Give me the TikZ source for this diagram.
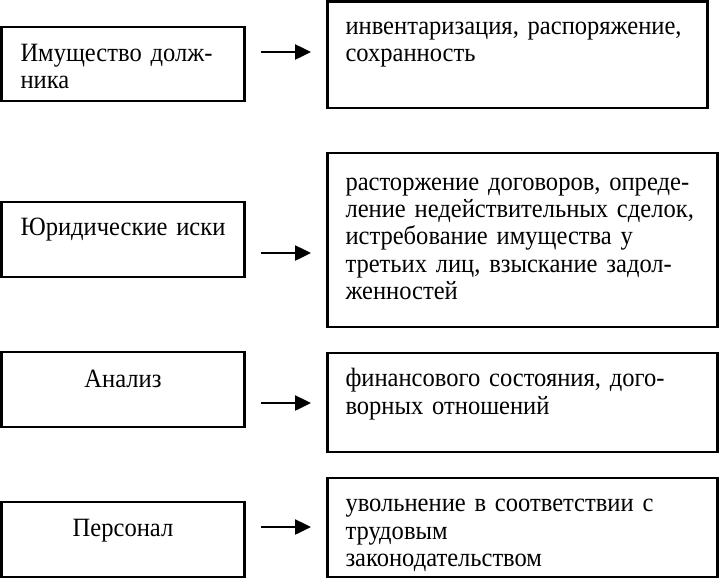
\documentclass[tikz,border=0pt]{standalone}
\usepackage{fontspec}
\setmainfont{Liberation Serif}[FakeStretch=0.93]
\usetikzlibrary{arrows.meta}

\begin{document}
\begin{tikzpicture}[x=1pt, y=-1pt,
	box/.style={draw, line width=2.7pt, anchor=north west, outer sep=0pt, inner ysep=0pt,
		font=\fontsize{26.4}{27.4}\selectfont},
	lbox/.style={box, inner xsep=19pt, text width=205pt, align=center},
	rbox/.style={box, inner xsep=18pt, text width=354pt, align=left},
	arr/.style={line width=2.5pt, -{Triangle[length=16pt, width=15pt]}, shorten <=16.5pt, shorten >=16.5pt}]
	\useasboundingbox (0,0) rectangle (720,579);
	\node[lbox, align=left, text height=34pt, text depth=40pt] (l1) at (1.5,27) {Имущество долж-\\ника};
	\node[lbox, text height=33pt, text depth=42pt] (l2) at (1.5,202) {Юридические иски};
	\node[lbox, text height=35pt, text depth=40pt] (l3) at (1.5,352) {Анализ};
	\node[lbox, text height=34pt, text depth=41pt] (l4) at (1.5,502) {Персонал};
	\node[rbox, text width=344pt, text height=33pt, text depth=73.5pt] (r1) at (327.5,1.5) {инвентаризация, распоряжение,\\сохранность};
	\node[rbox, text height=37pt, text depth=137pt] (r2) at (327.5,153) {расторжение договоров, опреде-\\ление недействительных сделок,\\истребование имущества у\\третьих лиц, взыскание задол-\\женностей};
	\node[rbox, text height=33.7pt, text depth=65.3pt] (r3) at (327.5,353) {финансового состояния, дого-\\ворных отношений};
	\node[rbox, text height=33.7pt, text depth=65.3pt] (r4) at (327.5,478) {увольнение в соответствии с\\трудовым\\законодательством};
	\draw[arr] ([yshift=12pt]l1.east) -- ([yshift=12pt]l1.east -| r1.west);
	\draw[arr] ([yshift=-13.5pt]l2.east) -- ([yshift=-13.5pt]l2.east -| r2.west);
	\draw[arr] ([yshift=-13.5pt]l3.east) -- ([yshift=-13.5pt]l3.east -| r3.west);
	\draw[arr] ([yshift=12.5pt]l4.east) -- ([yshift=12.5pt]l4.east -| r4.west);
\end{tikzpicture}
\end{document}
